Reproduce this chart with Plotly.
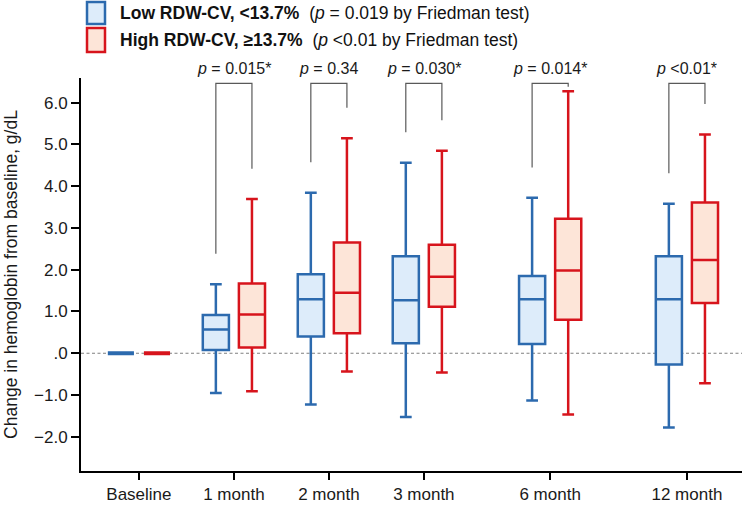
import plotly.graph_objects as go

categories = ["Baseline", "1 month", "2 month", "3 month", "6 month", "12 month"]
positions = [0, 1, 2, 3, 4.33, 5.77]

low_lower = [0, -0.95, -1.23, -1.53, -1.13, -1.78]
low_q1 = [0, 0.08, 0.40, 0.24, 0.22, -0.27]
low_median = [0, 0.57, 1.29, 1.27, 1.29, 1.29]
low_q3 = [0, 0.915, 1.89, 2.32, 1.85, 2.32]
low_upper = [0, 1.65, 3.84, 4.56, 3.72, 3.58]

high_lower = [0, -0.91, -0.44, -0.46, -1.47, -0.72]
high_q1 = [0, 0.14, 0.48, 1.11, 0.80, 1.20]
high_median = [0, 0.93, 1.45, 1.83, 1.98, 2.23]
high_q3 = [0, 1.67, 2.65, 2.60, 3.22, 3.61]
high_upper = [0, 3.69, 5.15, 4.85, 6.27, 5.24]

p_labels = ["", "<i>p</i> = 0.015*", "<i>p</i> = 0.34", "<i>p</i> = 0.030*",
            "<i>p</i> = 0.014*", "<i>p</i> &lt;0.01*"]

ytick_vals = [-2, -1, 0, 1, 2, 3, 4, 5, 6]
ytick_text = ["\u22122.0", "\u22121.0", ".0", "1.0", "2.0", "3.0", "4.0", "5.0", "6.0"]

BLUE = "#2c6aae"
BLUE_FILL = "#ddecfa"
RED = "#d7141c"
RED_FILL = "#fde5d8"
FONT = "Liberation Sans, Arial, sans-serif"

OFF = 0.19
BW = 0.275

fig = go.Figure()

groups = [
    (-OFF, low_lower, low_q1, low_median, low_q3, low_upper, BLUE, BLUE_FILL),
    (OFF, high_lower, high_q1, high_median, high_q3, high_upper, RED, RED_FILL),
]
for off, lo, q1, med, q3, hi, col, fill in groups:
    # baseline (zero-height box drawn as a thick bar)
    fig.add_trace(go.Box(
        x=[positions[0] + off], lowerfence=[lo[0]], q1=[q1[0]], median=[med[0]],
        q3=[q3[0]], upperfence=[hi[0]], width=BW, whiskerwidth=0.45,
        line=dict(color=col, width=4), fillcolor=fill, boxpoints=False,
        showlegend=False, hoverinfo="skip"))
    fig.add_trace(go.Box(
        x=[p + off for p in positions[1:]], lowerfence=lo[1:], q1=q1[1:],
        median=med[1:], q3=q3[1:], upperfence=hi[1:], width=BW,
        whiskerwidth=0.45, line=dict(color=col, width=2.5), fillcolor=fill,
        boxpoints=False, showlegend=False, hoverinfo="skip"))

shapes = []
# dashed zero reference line
shapes.append(dict(type="line", xref="paper", yref="y", x0=0, x1=1, y0=0, y1=0,
                   line=dict(color="#808080", width=1.2, dash="3px,2.5px"),
                   layer="below"))

BR_TOP = 6.46
GAP = 0.73
annotations = []
for i in range(1, len(categories)):
    xl = positions[i] - OFF
    xr = positions[i] + OFF
    yl = min(low_upper[i] + GAP, BR_TOP - 0.08)
    yr = min(high_upper[i] + GAP, BR_TOP - 0.08)
    shapes.append(dict(type="path", xref="x", yref="y",
                       path=f"M {xl},{yl} L {xl},{BR_TOP} L {xr},{BR_TOP} L {xr},{yr}",
                       line=dict(color="#595959", width=1.2)))
    annotations.append(dict(x=positions[i], y=1.0232, xref="x", yref="paper",
                            text=p_labels[i], showarrow=False,
                            font=dict(size=16, color="#1a1a1a", family=FONT),
                            xanchor="center", yanchor="middle"))

# custom legend
leg_rows = [
    (1.1934, 1.1374, 1.1654, BLUE, BLUE_FILL,
     "<b>Low RDW-CV, &lt;13.7%</b>  (<i>p</i> = 0.019 by Friedman test)"),
    (1.1272, 1.0662, 1.0967, RED, RED_FILL,
     "<b>High RDW-CV, \u226513.7%</b>  (<i>p</i> &lt;0.01 by Friedman test)"),
]
for y0, y1, yc, col, fill, txt in leg_rows:
    shapes.append(dict(type="rect", xref="paper", yref="paper",
                       x0=0.0091, x1=0.0363, y0=y1, y1=y0,
                       line=dict(color=col, width=2.5), fillcolor=fill))
    annotations.append(dict(x=0.056, y=yc, xref="paper", yref="paper",
                            text=txt, showarrow=False, xanchor="left",
                            yanchor="middle",
                            font=dict(size=17.5, color="#111111", family=FONT)))

fig.update_layout(
    width=744, height=507,
    margin=dict(l=81, r=2, t=78, b=36),
    paper_bgcolor="white", plot_bgcolor="white",
    boxmode="overlay",
    font=dict(family=FONT, size=17, color="#1a1a1a"),
    shapes=shapes, annotations=annotations,
    xaxis=dict(range=[-0.61, 6.35], tickvals=positions, ticktext=categories,
               showline=True, linecolor="black", linewidth=2, ticks="outside",
               ticklen=7, tickwidth=2, tickcolor="black", showgrid=False,
               zeroline=False, tickfont=dict(size=17)),
    yaxis=dict(range=[-2.82, 6.59], tickvals=ytick_vals, ticktext=ytick_text,
               showline=True, linecolor="black", linewidth=2, ticks="outside",
               ticklen=8, tickwidth=2, tickcolor="black", showgrid=False,
               zeroline=False, tickfont=dict(size=17),
               title=dict(text="Change in hemoglobin from baseline, g/dL",
                          font=dict(size=17.5), standoff=12)),
)

fig.write_html("out.html")
